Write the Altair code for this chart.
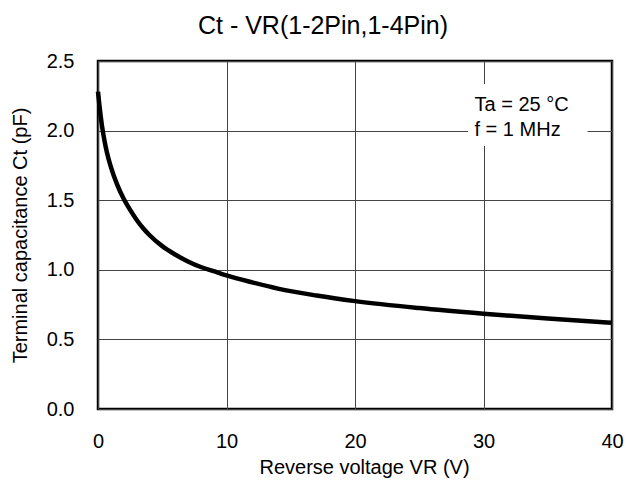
import altair as alt
import pandas as pd

vr = [0, 0.1, 0.2, 0.3, 0.5, 0.7, 1, 1.5, 2, 2.5, 3, 3.5, 4, 5, 6, 7, 8, 9, 10, 12, 14, 17, 20, 25, 30, 35, 40]
ct = [2.28, 2.19, 2.11, 2.04, 1.93, 1.84, 1.74, 1.61, 1.51, 1.43, 1.36, 1.30, 1.25, 1.17, 1.11, 1.06, 1.02,
      0.99, 0.96, 0.91, 0.865, 0.815, 0.775, 0.725, 0.685, 0.65, 0.62]

notes = ["Ta = 25 °C", "f = 1 MHz"]
note_x = [29.3, 29.3]
note_y = [2.14, 1.96]

df = pd.DataFrame({"VR": vr, "Ct": ct})
ndf = pd.DataFrame({"label": notes, "x": note_x, "y": note_y})
box = pd.DataFrame({"x": [28.8], "x2": [38.1], "y": [2.335], "y2": [1.89]})

font = "Liberation Sans"
xs = alt.Scale(domain=[0, 40], nice=False)
ys = alt.Scale(domain=[0, 2.5], nice=False)

common = dict(labelFontSize=20, titleFontSize=20, ticks=False, domain=False, labelFlush=False,
              gridColor="#444", gridWidth=1, gridOpacity=1, labelColor="black", titleColor="black",
              titleFontWeight="normal", labelFont=font, titleFont=font)

line = alt.Chart(df).mark_line(color="black", strokeWidth=4.5, interpolate="monotone").encode(
    x=alt.X("VR:Q", scale=xs, title="Reverse voltage VR (V)",
            axis=alt.Axis(values=[0, 10, 20, 30, 40], format="d", labelPadding=22, titlePadding=6,
                          titleX=266, **common)),
    y=alt.Y("Ct:Q", scale=ys, title="Terminal capacitance Ct (pF)",
            axis=alt.Axis(values=[0, 0.5, 1.0, 1.5, 2.0, 2.5], format=".1f", labelPadding=24,
                          titlePadding=16, **common)),
)

rect = alt.Chart(box).mark_rect(color="white").encode(
    x=alt.X("x:Q", scale=xs), x2="x2:Q", y=alt.Y("y:Q", scale=ys), y2="y2:Q"
)

text = alt.Chart(ndf).mark_text(align="left", baseline="alphabetic", fontSize=20, font=font, color="black").encode(
    x=alt.X("x:Q", scale=xs), y=alt.Y("y:Q", scale=ys), text="label:N"
)

chart = alt.layer(rect, line, text).properties(
    width=514, height=348,
    title=alt.TitleParams("Ct - VR(1-2Pin,1-4Pin)", fontSize=25, font=font, fontWeight="normal",
                          color="black", offset=12, dx=-32),
    autosize=alt.AutoSizeParams(type="none"),
    padding={"left": 90, "top": 53, "right": 12, "bottom": 74},
).configure_view(stroke="black", strokeWidth=2.5)

chart.save("out.html", embed_options={"renderer": "svg", "actions": False})
